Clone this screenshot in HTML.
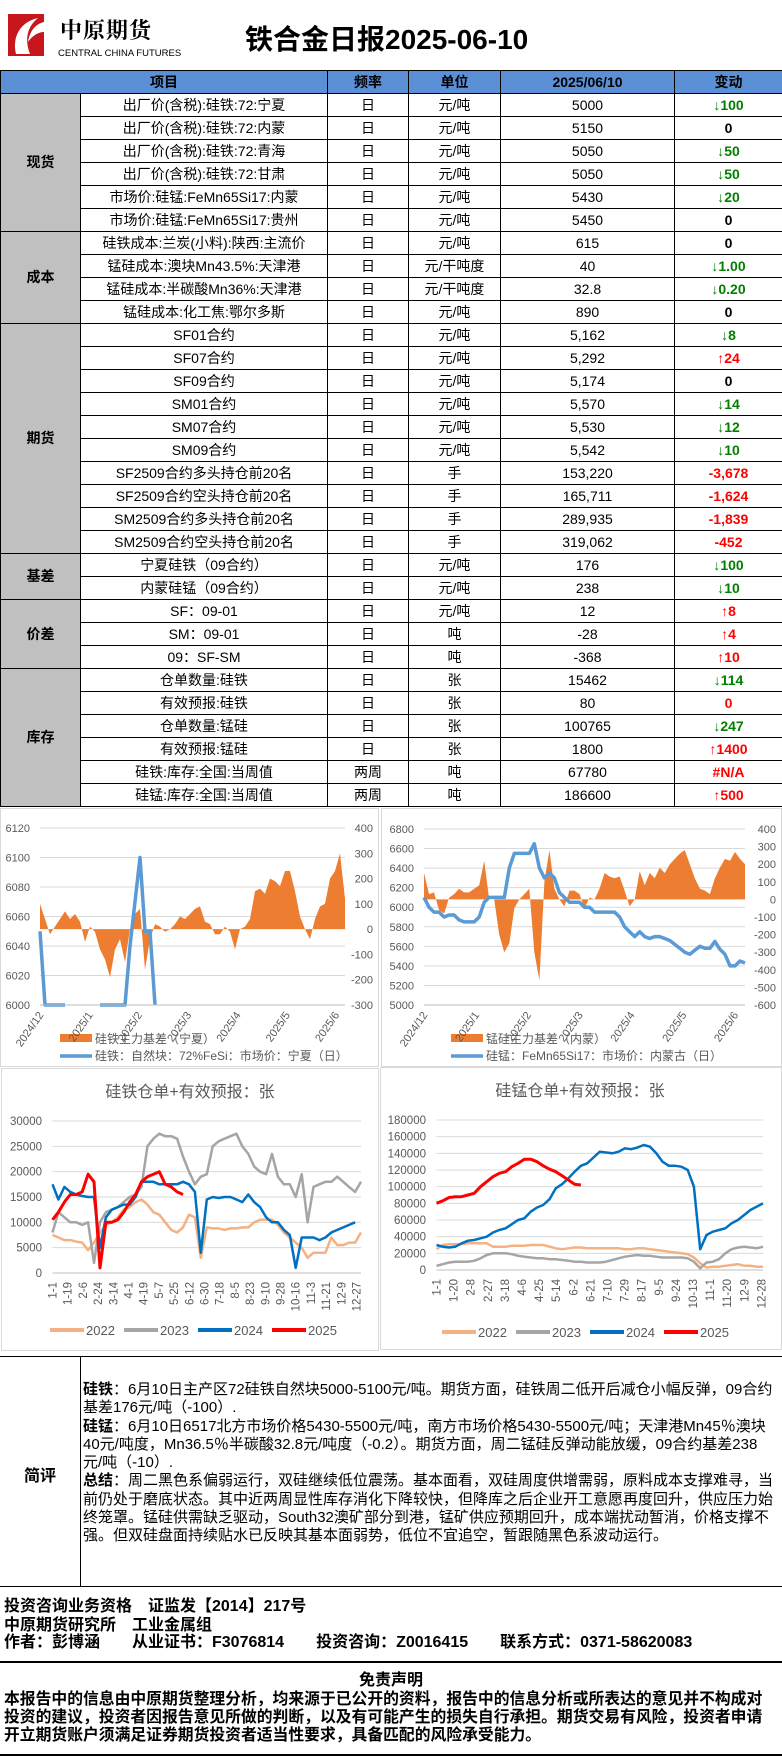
<!DOCTYPE html>
<html><head><meta charset="utf-8">
<style>
*{margin:0;padding:0;box-sizing:border-box}
body{width:782px;height:1756px;position:relative;background:#fff;font-family:"Liberation Sans","Noto Sans CJK SC",sans-serif;color:#000;overflow:hidden}
.abs{position:absolute}
table.main{position:absolute;left:0;top:70px;border-collapse:collapse;table-layout:fixed;width:782px}
table.main td{border:1px solid #000;height:23px;text-align:center;font-size:14px;white-space:nowrap;overflow:hidden;line-height:21px}
table.main tr.hd td{background:#5b8fd6;font-weight:bold;height:23px}
td.grp{background:#c0c0c0;font-weight:bold;font-size:15px}
.g{color:#008000;font-weight:bold}
.r{color:#ff0000;font-weight:bold}
.b{font-weight:bold}
.cm{position:absolute;left:83px;top:1381px;width:699px;font-size:15px;line-height:18.3px;font-family:"Liberation Sans","Noto Sans CJK SC",sans-serif;white-space:nowrap}
.ft{position:absolute;left:4px;font-size:16px;font-weight:bold;white-space:nowrap;line-height:18px}
</style></head><body>
<div class="abs" style="left:8px;top:12px;width:178px;height:48px">
<svg width="40" height="46" viewBox="0 0 40 46"><rect x="0" y="2" width="36" height="42" fill="#c8161d"/><path d="M8 42 C4 25 12 10 30 6 C20 14 16 26 22 42 Z" fill="#fff"/><path d="M20 30 C22 18 28 12 36 10 L36 20 C30 20 24 24 20 30Z" fill="#fff"/></svg>
<div class="abs" style="left:52px;top:2px;font-size:22px;font-weight:bold;font-family:'Liberation Serif','Noto Serif CJK SC',serif;letter-spacing:1px">中原期货</div>
<div class="abs" style="left:50px;top:36px;font-size:9.5px;white-space:nowrap">CENTRAL CHINA FUTURES</div>
</div>
<div class="abs" style="left:245px;top:18px;font-size:28px;font-weight:bold;white-space:nowrap">铁合金日报2025-06-10</div>

<table class="main">
<colgroup><col style="width:80px"><col style="width:247px"><col style="width:81px"><col style="width:92px"><col style="width:174px"><col style="width:108px"></colgroup>
<tr class="hd"><td colspan="2">项目</td><td>频率</td><td>单位</td><td>2025/06/10</td><td>变动</td></tr>
<tr><td class="grp" rowspan="6">现货</td><td>出厂价(含税):硅铁:72:宁夏</td><td>日</td><td>元/吨</td><td>5000</td><td class="g">↓100</td></tr>
<tr><td>出厂价(含税):硅铁:72:内蒙</td><td>日</td><td>元/吨</td><td>5150</td><td class="b">0</td></tr>
<tr><td>出厂价(含税):硅铁:72:青海</td><td>日</td><td>元/吨</td><td>5050</td><td class="g">↓50</td></tr>
<tr><td>出厂价(含税):硅铁:72:甘肃</td><td>日</td><td>元/吨</td><td>5050</td><td class="g">↓50</td></tr>
<tr><td>市场价:硅锰:FeMn65Si17:内蒙</td><td>日</td><td>元/吨</td><td>5430</td><td class="g">↓20</td></tr>
<tr><td>市场价:硅锰:FeMn65Si17:贵州</td><td>日</td><td>元/吨</td><td>5450</td><td class="b">0</td></tr>
<tr><td class="grp" rowspan="4">成本</td><td>硅铁成本:兰炭(小料):陕西:主流价</td><td>日</td><td>元/吨</td><td>615</td><td class="b">0</td></tr>
<tr><td>锰硅成本:澳块Mn43.5%:天津港</td><td>日</td><td>元/干吨度</td><td>40</td><td class="g">↓1.00</td></tr>
<tr><td>锰硅成本:半碳酸Mn36%:天津港</td><td>日</td><td>元/干吨度</td><td>32.8</td><td class="g">↓0.20</td></tr>
<tr><td>锰硅成本:化工焦:鄂尔多斯</td><td>日</td><td>元/吨</td><td>890</td><td class="b">0</td></tr>
<tr><td class="grp" rowspan="10">期货</td><td>SF01合约</td><td>日</td><td>元/吨</td><td>5,162</td><td class="g">↓8</td></tr>
<tr><td>SF07合约</td><td>日</td><td>元/吨</td><td>5,292</td><td class="r">↑24</td></tr>
<tr><td>SF09合约</td><td>日</td><td>元/吨</td><td>5,174</td><td class="b">0</td></tr>
<tr><td>SM01合约</td><td>日</td><td>元/吨</td><td>5,570</td><td class="g">↓14</td></tr>
<tr><td>SM07合约</td><td>日</td><td>元/吨</td><td>5,530</td><td class="g">↓12</td></tr>
<tr><td>SM09合约</td><td>日</td><td>元/吨</td><td>5,542</td><td class="g">↓10</td></tr>
<tr><td>SF2509合约多头持仓前20名</td><td>日</td><td>手</td><td>153,220</td><td class="r">-3,678</td></tr>
<tr><td>SF2509合约空头持仓前20名</td><td>日</td><td>手</td><td>165,711</td><td class="r">-1,624</td></tr>
<tr><td>SM2509合约多头持仓前20名</td><td>日</td><td>手</td><td>289,935</td><td class="r">-1,839</td></tr>
<tr><td>SM2509合约空头持仓前20名</td><td>日</td><td>手</td><td>319,062</td><td class="r">-452</td></tr>
<tr><td class="grp" rowspan="2">基差</td><td>宁夏硅铁（09合约）</td><td>日</td><td>元/吨</td><td>176</td><td class="g">↓100</td></tr>
<tr><td>内蒙硅锰（09合约）</td><td>日</td><td>元/吨</td><td>238</td><td class="g">↓10</td></tr>
<tr><td class="grp" rowspan="3">价差</td><td>SF：09-01</td><td>日</td><td>元/吨</td><td>12</td><td class="r">↑8</td></tr>
<tr><td>SM：09-01</td><td>日</td><td>吨</td><td>-28</td><td class="r">↑4</td></tr>
<tr><td>09：SF-SM</td><td>日</td><td>吨</td><td>-368</td><td class="r">↑10</td></tr>
<tr><td class="grp" rowspan="6">库存</td><td>仓单数量:硅铁</td><td>日</td><td>张</td><td>15462</td><td class="g">↓114</td></tr>
<tr><td>有效预报:硅铁</td><td>日</td><td>张</td><td>80</td><td class="r">0</td></tr>
<tr><td>仓单数量:锰硅</td><td>日</td><td>张</td><td>100765</td><td class="g">↓247</td></tr>
<tr><td>有效预报:锰硅</td><td>日</td><td>张</td><td>1800</td><td class="r">↑1400</td></tr>
<tr><td>硅铁:库存:全国:当周值</td><td>两周</td><td>吨</td><td>67780</td><td class="r">#N/A</td></tr>
<tr><td>硅锰:库存:全国:当周值</td><td>两周</td><td>吨</td><td>186600</td><td class="r">↑500</td></tr>
</table>

<svg id="charts" class="abs" style="left:0;top:0" width="782" height="1756">
<rect x="0.5" y="808.5" width="378" height="258" fill="none" stroke="#d9d9d9"/>
<rect x="381.5" y="808.5" width="400" height="258" fill="none" stroke="#d9d9d9"/>
<rect x="1.5" y="1068.5" width="377" height="282" fill="none" stroke="#d9d9d9"/>
<rect x="380.5" y="1067.5" width="401" height="282" fill="none" stroke="#d9d9d9"/>
</svg>

<div class="abs" style="left:0;top:1356px;width:782px;height:231px;border-top:1.5px solid #000;border-bottom:1.5px solid #000"></div>
<div class="abs" style="left:80px;top:1356px;width:1px;height:231px;background:#000"></div>
<div class="abs b" style="left:24px;top:1462px;font-size:16px">简评</div>
<div class="cm">
<b>硅铁</b>：6月10日主产区72硅铁自然块5000-5100元/吨。期货方面，硅铁周二低开后减仓小幅反弹，09合约<br>基差176元/吨（-100）.<br>
<b>硅锰</b>：6月10日6517北方市场价格5430-5500元/吨，南方市场价格5430-5500元/吨；天津港Mn45％澳块<br>40元/吨度，Mn36.5％半碳酸32.8元/吨度（-0.2）。期货方面，周二锰硅反弹动能放缓，09合约基差238<br>元/吨（-10）.<br>
<b>总结</b>：周二黑色系偏弱运行，双硅继续低位震荡。基本面看，双硅周度供增需弱，原料成本支撑难寻，当<br>前仍处于磨底状态。其中近两周显性库存消化下降较快，但降库之后企业开工意愿再度回升，供应压力始<br>终笼罩。锰硅供需缺乏驱动，South32澳矿部分到港，锰矿供应预期回升，成本端扰动暂消，价格支撑不<br>强。但双硅盘面持续贴水已反映其基本面弱势，低位不宜追空，暂跟随黑色系波动运行。
</div>
<div class="ft" style="top:1598px">投资咨询业务资格　证监发【2014】217号</div>
<div class="ft" style="top:1617px">中原期货研究所　工业金属组</div>
<div class="ft" style="top:1634px">作者：彭博涵　　从业证书：F3076814　　投资咨询：Z0016415　　联系方式：0371-58620083</div>
<div class="abs" style="left:0;top:1661px;width:782px;height:1.5px;background:#000"></div>
<div class="ft" style="top:1672px;left:0;width:782px;text-align:center">免责声明</div>
<div class="ft" style="top:1691px;width:778px;line-height:18px;font-size:15.8px">本报告中的信息由中原期货整理分析，均来源于已公开的资料，报告中的信息分析或所表达的意见并不构成对<br>投资的建议，投资者因报告意见所做的判断，以及有可能产生的损失自行承担。期货交易有风险，投资者申请<br>开立期货账户须满足证券期货投资者适当性要求，具备匹配的风险承受能力。</div>
<div class="abs" style="left:0;top:1754px;width:782px;height:1.5px;background:#000"></div>

<script>
const c1Labels=["2024/12","2025/1","2025/2","2025/3","2025/4","2025/5","2025/6"];
const c1Basis=[100,40,-20,10,40,70,40,60,30,-50,10,-10,-80,-120,-190,-80,-40,-130,0,60,80,-160,-40,20,10,-10,0,20,50,40,60,80,90,30,20,-20,-20,10,-10,-80,0,10,40,150,160,140,200,190,170,230,230,150,50,0,-40,40,90,100,200,230,300,120];
const c1Price=[6050,6000,6000,6000,6000,6000,null,null,null,null,null,null,6000,6000,6000,6000,6000,6000,6040,6070,6100,6050,6050,6000,null,null,null,null,null,null,null,null,null,null,null,null,null,null,null,null,null,null,null,null,null,null,null,null,null,null,null,null,null,null,null,null,null,null,null,null,null,null];
const c1LeftTicks=[6000,6020,6040,6060,6080,6100,6120];
const c1RightTicks=[-300,-200,-100,0,100,200,300,400];

const c2Labels=["2024/12","2025/1","2025/2","2025/3","2025/4","2025/5","2025/6"];
const c2Basis=[150,30,40,-60,-80,10,30,60,40,40,60,80,220,0,0,-200,-300,-250,-50,0,30,60,-300,-460,100,280,60,0,-40,50,50,30,-50,10,0,60,150,130,120,130,50,-40,0,160,80,150,120,180,150,200,230,260,280,200,120,60,50,30,120,180,230,220,270,230,200];
const c2Price=[6100,6000,5950,5950,5900,5920,5920,5870,5850,5850,5850,5900,6050,6100,6100,6100,6100,6400,6550,6550,6550,6550,6650,6400,6300,6350,6300,6150,6100,6050,6050,6050,6000,6000,5950,5950,5950,5950,5950,5900,5800,5750,5700,5750,5700,5680,5700,5700,5680,5660,5620,5580,5540,5520,5560,5600,5580,5580,5650,5570,5520,5400,5400,5450,5430];
const c2LeftTicks=[5000,5200,5400,5600,5800,6000,6200,6400,6600,6800];
const c2RightTicks=[-600,-500,-400,-300,-200,-100,0,100,200,300,400];

const c3Labels=["1-1","1-19","2-6","2-24","3-14","4-1","4-19","5-7","5-25","6-12","6-30","7-18","8-5","8-23","9-10","9-28","10-16","11-3","11-21","12-9","12-27"];
const c3Ticks=[0,5000,10000,15000,20000,25000,30000];
const c3Y2022=[7500,7000,6500,6500,6200,6000,4500,6000,8000,9500,10000,11000,12500,13000,14000,14500,13500,12000,11500,10000,8500,8000,9000,11500,11000,3000,9000,8800,8800,8500,8800,8800,9000,9000,10000,10500,10500,10500,9500,8000,7000,6000,5000,3000,4000,4000,4000,7000,5500,5500,6000,6000,8000];
const c3Y2023=[8000,12000,11000,10000,10000,9500,10000,2000,10000,12000,12500,13000,14000,15000,15500,17000,25000,26500,27500,27000,27000,26500,23000,20000,17500,19000,19500,25000,26000,26500,27000,27500,25000,23500,21000,20000,19500,23500,19000,17500,17500,15000,19500,10000,17000,17500,18000,18000,19000,18000,17000,16000,18000];
const c3Y2024=[17500,14500,17000,16000,15500,15200,15000,15000,5000,11000,12500,13000,13500,13500,15000,18000,18000,18000,17500,17500,17500,17500,18000,17500,16000,4000,14500,15000,14800,15000,15000,14500,14000,15500,14000,13000,11000,10000,10000,8500,7500,1000,7000,7000,7000,6500,7000,8000,8500,9000,9500,10000];
const c3Y2025=[10500,12000,14000,15500,15500,16000,19500,18000,1000,10000,10000,10500,12000,14000,15500,18000,19000,19500,20000,17500,17000,16000,15500];

const c4Labels=["1-1","1-20","2-8","2-27","3-18","4-6","4-25","5-14","6-2","6-21","7-10","7-29","8-17","9-5","9-24","10-13","11-1","11-20","12-9","12-28"];
const c4Ticks=[0,20000,40000,60000,80000,100000,120000,140000,160000,180000];
const c4Y2022=[25000,30000,31000,31000,31000,32000,32000,32000,32000,28000,28000,28000,29000,29000,29000,30000,30000,30000,28000,26000,25000,26000,27000,27000,26000,26000,26000,26000,26000,26000,25000,25000,26000,26000,25000,24000,23000,22000,21000,20000,19000,15000,8000,3000,4000,4000,5000,6000,7000,5000,5000,4000,4000];
const c4Y2023=[5000,7000,9000,10000,10000,10000,11000,14000,18000,20000,20000,20000,19000,17000,16000,15000,14000,14000,13000,13000,12000,11000,10000,10000,9000,9000,9000,10000,12000,14000,16000,17000,18000,17000,17000,16000,15000,15000,15000,15000,14000,10000,2000,9000,10000,13000,20000,25000,27000,28000,27000,26000,28000];
const c4Y2024=[30000,28000,27000,28000,32000,35000,36000,38000,40000,45000,48000,50000,55000,60000,62000,70000,75000,78000,85000,98000,103000,110000,118000,125000,128000,135000,142000,141000,140000,142000,146000,145000,147000,150000,148000,140000,130000,125000,125000,124000,120000,100000,25000,42000,46000,48000,50000,56000,60000,66000,72000,76000,80000];
const c4Y2025=[80000,83000,87000,88000,88000,90000,92000,100000,106000,112000,116000,118000,124000,128000,133000,133000,130000,125000,121000,118000,113000,108000,103000,102000];

const NS="http://www.w3.org/2000/svg";
const svg=document.getElementById('charts');
function mk(tag,attrs,parent){const e=document.createElementNS(NS,tag);for(const k in attrs)e.setAttribute(k,attrs[k]);(parent||svg).appendChild(e);return e;}
function txt(x,y,s,attrs){const t=mk('text',Object.assign({x:x,y:y,'font-size':11,fill:'#595959','font-family':'Liberation Sans, Noto Sans CJK SC, sans-serif'},attrs||{}));t.textContent=s;return t;}
function lin(d0,d1,r0,r1){return v=>r0+(v-d0)*(r1-r0)/(d1-d0);}

function dualChart(cfg){
  const g=mk('g',{});
  
  
  const yL=lin(cfg.lMin,cfg.lMax,cfg.yB,cfg.yT), yR=lin(cfg.rMin,cfg.rMax,cfg.yB,cfg.yT);
  const n=cfg.basis.length, xs=i=>cfg.xL+i*(cfg.xR-cfg.xL)/(n-1);
  cfg.lTicks.forEach(t=>{const l=mk('line',{x1:cfg.xL,x2:cfg.xR,y1:yL(t),y2:yL(t),stroke:'#d9d9d9'},g);
    const tx=txt(cfg.lLabX,yL(t)+4,String(t),{'text-anchor':'end'});});
  cfg.rTicks.forEach(t=>{const tx=txt(cfg.rLabX,yR(t)+4,String(t),{'text-anchor':'end'});});
  let d='M'+xs(0)+','+yR(0);
  cfg.basis.forEach((v,i)=>{d+=' L'+xs(i).toFixed(1)+','+yR(v).toFixed(1);});
  d+=' L'+xs(n-1)+','+yR(0)+' Z';
  const a=mk('path',{d:d,fill:'#ed7d31'},g);
  let pd='',pen=false;
  cfg.price.forEach((v,i)=>{if(v===null){pen=false;return;}pd+=(pen?' L':' M')+xs(i).toFixed(1)+','+yL(v).toFixed(1);pen=true;});
  const p=mk('path',{d:pd,fill:'none',stroke:'#5b9bd5','stroke-width':3.5,'stroke-linejoin':'round'},g);
  mk('line',{x1:cfg.xL,x2:cfg.xR,y1:cfg.yB,y2:cfg.yB,stroke:'#bfbfbf'},g);
  cfg.labels.forEach((s,i)=>{const x=cfg.xL+i*(cfg.labStep);const tx=txt(x+4,cfg.yB+10,s,{'text-anchor':'end',transform:'rotate(-55 '+(x+4)+' '+(cfg.yB+10)+')'});});
  const lr=mk('rect',{x:cfg.legX,y:1034,width:32,height:8,fill:'#ed7d31'},g);
  const l1=txt(cfg.legX+35,1043,cfg.leg1,{'font-size':12});
  const ll=mk('line',{x1:cfg.legX,x2:cfg.legX+32,y1:1056,y2:1056,stroke:'#5b9bd5','stroke-width':3.5},g);
  const l2=txt(cfg.legX+35,1060,cfg.leg2,{'font-size':12});
}
dualChart({name:'chart-sf-basis',xL:40,xR:345,yT:828,yB:1005,lMin:6000,lMax:6120,rMin:-300,rMax:400,lTicks:c1LeftTicks,rTicks:c1RightTicks,lLabX:30,rLabX:373,basis:c1Basis,price:c1Price,labels:c1Labels,labStep:49.3,legX:60,leg1:'硅铁主力基差（宁夏）',leg2:'硅铁：自然块：72%FeSi：市场价：宁夏（日）'});
dualChart({name:'chart-sm-basis',xL:424,xR:745,yT:829,yB:1005,lMin:5000,lMax:6800,rMin:-600,rMax:400,lTicks:c2LeftTicks,rTicks:c2RightTicks,lLabX:414,rLabX:776,basis:c2Basis,price:c2Price,labels:c2Labels,labStep:51.8,legX:451,leg1:'锰硅主力基差（内蒙）',leg2:'硅锰：FeMn65Si17：市场价：内蒙古（日）'});

function seasonChart(cfg){
  const g=mk('g',{});
  
  
  const y=lin(0,cfg.max,cfg.yB,cfg.yT), xw=w=>cfg.xL+w*(cfg.xR-cfg.xL)/52;
  const tt=txt(cfg.tX,cfg.tY,cfg.title,{'text-anchor':'middle','font-size':16});
  cfg.ticks.forEach(t=>{const l=mk('line',{x1:cfg.xL,x2:cfg.xR,y1:y(t),y2:y(t),stroke:t===0?'#bfbfbf':'#d9d9d9'},g);
    const tx=txt(cfg.labX,y(t)+4,String(t),{'text-anchor':'end','font-size':11.5});});
  cfg.labels.forEach((s,i)=>{const x=cfg.xL+i*cfg.labStep;const tx=txt(x+4,cfg.yB+9,s,{'text-anchor':'end','font-size':11.5,transform:'rotate(-90 '+(x+4)+' '+(cfg.yB+9)+')'});});
  cfg.series.forEach((s,k)=>{
    const d=s.data.map((v,i)=>(i?'L':'M')+xw(i).toFixed(1)+','+y(v).toFixed(1)).join(' ');
    const p=mk('path',{d:d,fill:'none',stroke:s.color,'stroke-width':s.w,'stroke-linejoin':'round'},g);
    
    
    const lx=cfg.legX+k*cfg.legStep;
    const ll=mk('line',{x1:lx,x2:lx+34,y1:cfg.legY,y2:cfg.legY,stroke:s.color,'stroke-width':4},g);
    
    
    const lt=txt(lx+36,cfg.legY+5,s.name,{'font-size':13});
    
    
  });
}
seasonChart({name:'chart-sf-warrants',title:'硅铁仓单+有效预报：张',tX:190,tY:1097,xL:52.5,xR:361,yT:1121,yB:1273,max:30000,ticks:c3Ticks,labX:42,labels:c3Labels,labStep:15.2,legX:50,legStep:74,legY:1330,
 series:[{name:'2022',data:c3Y2022,color:'#f4b183',w:2.5},{name:'2023',data:c3Y2023,color:'#a5a5a5',w:2.5},{name:'2024',data:c3Y2024,color:'#0070c0',w:2.5},{name:'2025',data:c3Y2025,color:'#ff0000',w:3}]});
seasonChart({name:'chart-sm-warrants',title:'硅锰仓单+有效预报：张',tX:580,tY:1096,xL:436.5,xR:763,yT:1120,yB:1270,max:180000,ticks:c4Ticks,labX:426,labels:c4Labels,labStep:17.1,legX:442,legStep:74,legY:1332,
 series:[{name:'2022',data:c4Y2022,color:'#f4b183',w:2.5},{name:'2023',data:c4Y2023,color:'#a5a5a5',w:2.5},{name:'2024',data:c4Y2024,color:'#0070c0',w:2.5},{name:'2025',data:c4Y2025,color:'#ff0000',w:3}]});
</script>
</body></html>
